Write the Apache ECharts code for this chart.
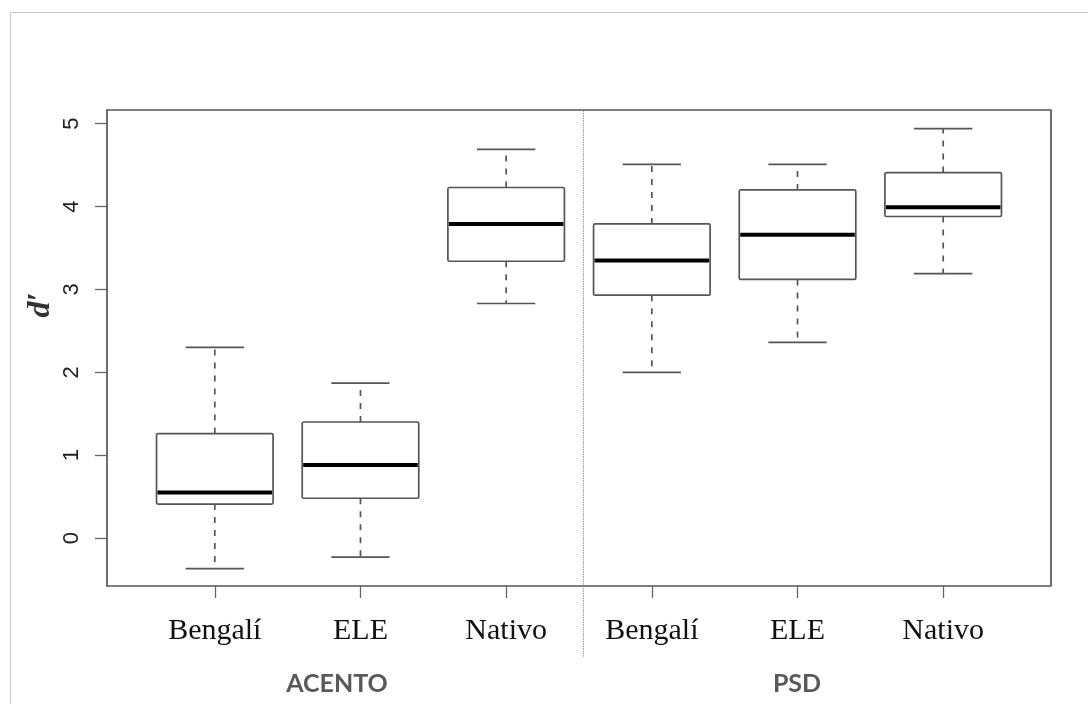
<!DOCTYPE html>
<html><head><meta charset="utf-8">
<script src="https://cdn.jsdelivr.net/npm/echarts@6/dist/echarts.min.js"></script>
<style>html,body{margin:0;padding:0;background:#fff}#c{width:1088px;height:704px}</style>
</head><body><div id="c"></div>
<script>
// ---- data ----
const categories = ['Bengalí', 'ELE', 'Nativo', 'Bengalí', 'ELE', 'Nativo'];
const groups = ['ACENTO', 'PSD'];
const whiskerLow  = [-0.37, -0.23, 2.83, 2.00, 2.36, 3.19];
const q1          = [ 0.41,  0.48, 3.34, 2.93, 3.12, 3.88];
const median      = [ 0.55,  0.88, 3.79, 3.35, 3.66, 3.99];
const q3          = [ 1.26,  1.40, 4.23, 3.79, 4.20, 4.41];
const whiskerHigh = [ 2.30,  1.87, 4.69, 4.51, 4.51, 4.94];
const yTicks = [0, 1, 2, 3, 4, 5];
const xTicks = [1, 2, 3, 4, 5, 6];
const separatorX = 3.53;

const chart = echarts.init(document.getElementById('c'), null, {renderer: 'canvas'});
const boxData = categories.map((c, i) => [i + 1, whiskerLow[i], q1[i], median[i], q3[i], whiskerHigh[i]]);
const Y_MIN = -0.579, Y_MAX = 5.165;

function renderBox(params, api) {
  const x = api.value(0);
  const lo = api.coord([x, api.value(1)]);
  const b1 = api.coord([x, api.value(2)]);
  const md = api.coord([x, api.value(3)]);
  const b3 = api.coord([x, api.value(4)]);
  const hi = api.coord([x, api.value(5)]);
  const bw = api.size([0.8, 0])[0];
  const cw = bw / 2;
  const cx = lo[0];
  const grey = '#555';
  const dash = {stroke: grey, lineWidth: 1.7, lineDash: [6, 7]};
  const solid = {stroke: grey, lineWidth: 1.7};
  return {
    type: 'group',
    children: [
      {type: 'line', shape: {x1: cx, y1: b3[1], x2: cx, y2: hi[1]}, style: dash},
      {type: 'line', shape: {x1: cx, y1: b1[1], x2: cx, y2: lo[1]}, style: dash},
      {type: 'line', shape: {x1: cx - cw / 2, y1: hi[1], x2: cx + cw / 2, y2: hi[1]}, style: solid},
      {type: 'line', shape: {x1: cx - cw / 2, y1: lo[1], x2: cx + cw / 2, y2: lo[1]}, style: solid},
      {type: 'rect', shape: {x: cx - bw / 2, y: b3[1], width: bw, height: b1[1] - b3[1], r: 1.5},
        style: {fill: 'rgba(0,0,0,0)', stroke: grey, lineWidth: 1.7}},
      {type: 'line', shape: {x1: cx - bw / 2 + 1, y1: md[1], x2: cx + bw / 2 - 1, y2: md[1]},
        style: {stroke: '#000', lineWidth: 4}}
    ]
  };
}

function renderSep(params, api) {
  const a = api.coord([api.value(0), api.value(1)]);
  const b = api.coord([api.value(0), api.value(2)]);
  return {type: 'line', shape: {x1: a[0], y1: a[1], x2: b[0], y2: b[1]},
    style: {stroke: '#777', lineWidth: 1, lineDash: [1.2, 1.2]}};
}

chart.setOption({
  animation: false,
  backgroundColor: '#fff',
  grid: {left: 107, top: 110, width: 944, height: 476, show: true, borderColor: '#555', borderWidth: 1.7, backgroundColor: 'transparent'},
  xAxis: {
    type: 'value', min: 0.26, max: 6.74,
    axisLine: {show: false, onZero: false},
    splitLine: {show: false},
    axisTick: {show: true, customValues: xTicks, length: 12, inside: false, lineStyle: {color: '#666', width: 1.3}},
    axisLabel: {customValues: xTicks, formatter: v => categories[Math.round(v) - 1], margin: 30,
      fontFamily: 'Liberation Serif', fontSize: 30, color: '#111'}
  },
  yAxis: {
    type: 'value', min: Y_MIN, max: Y_MAX,
    axisLine: {show: false, onZero: false},
    splitLine: {show: false},
    axisTick: {show: true, customValues: yTicks, length: 12, inside: false, lineStyle: {color: '#666', width: 1.3}},
    axisLabel: {customValues: yTicks, rotate: 90, margin: 35, align: 'center', verticalAlign: 'middle',
      fontFamily: 'Liberation Sans', fontSize: 22, color: '#222'}
  },
  series: [
    {type: 'custom', renderItem: renderBox, data: boxData, encode: {x: 0, y: [1, 2, 3, 4, 5]}, clip: false, silent: true},
    {type: 'custom', renderItem: renderSep, data: [[separatorX, -1.43, Y_MAX]], encode: {x: 0, y: [1, 2]}, clip: false, silent: true}
  ],
  graphic: [
    {type: 'rect', left: 8, top: 10, shape: {width: 1100, height: 720}, style: {fill: 'none', stroke: '#c8c8c8', lineWidth: 1}, silent: true, z: -1},
    {type: 'text', x: 41, y: 305, rotation: Math.PI / 2,
      style: {text: 'd\u2032', fontFamily: 'Liberation Serif', fontStyle: 'italic', fontWeight: 'bold', fontSize: 32, fill: '#333', textAlign: 'center', textVerticalAlign: 'middle'}},
    {type: 'text', x: 337, y: 684, style: {text: groups[0], fontFamily: 'Lato', fontWeight: 'bold', fontSize: 25, fill: '#595959', textAlign: 'center', textVerticalAlign: 'middle'}},
    {type: 'text', x: 797, y: 684, style: {text: groups[1], fontFamily: 'Lato', fontWeight: 'bold', fontSize: 25, fill: '#595959', textAlign: 'center', textVerticalAlign: 'middle'}}
  ]
});
</script></body></html>
